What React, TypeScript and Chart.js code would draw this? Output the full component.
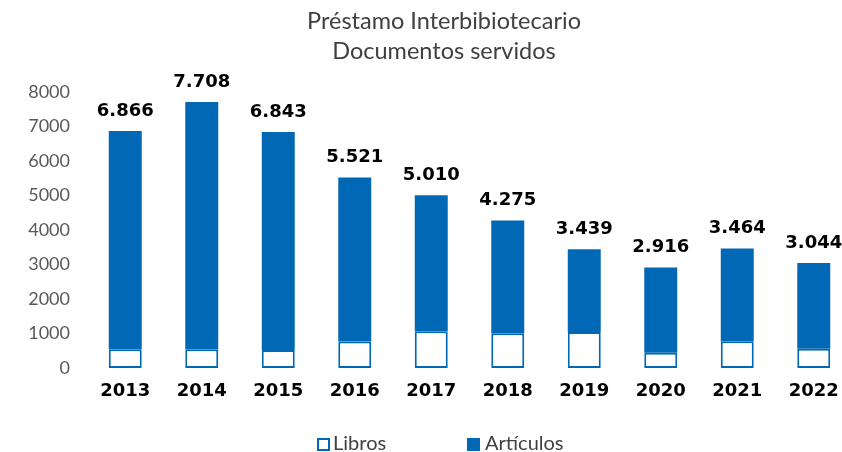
import React, { useEffect, useRef } from "react";
import { Chart, registerables } from "chart.js";

Chart.register(...registerables);

const years = ["2013", "2014", "2015", "2016", "2017", "2018", "2019", "2020", "2021", "2022"];
const totals = [6866, 7708, 6843, 5521, 5010, 4275, 3439, 2916, 3464, 3044];
const libros = [540, 540, 520, 765, 1065, 1010, 1040, 440, 775, 560];
const articulos = totals.map((t, i) => t - libros[i]);
const yTicks = [0, 1000, 2000, 3000, 4000, 5000, 6000, 7000, 8000];
const titleLines = ["Préstamo Interbibiotecario", "Documentos servidos"];
const seriesNames = ["Libros", "Artículos"];

const BLUE = "#0068B4";
const GRAY = "#404040";

const fmt = (n: number) => n.toLocaleString("de-DE");

const decorations = {
  id: "decorations",
  afterDraw(chart: any) {
    const ctx = chart.ctx;
    ctx.save();
    // Title
    ctx.fillStyle = GRAY;
    ctx.font = "23.5px Lato";
    ctx.textAlign = "center";
    ctx.textBaseline = "middle";
    ctx.fillText(titleLines[0], 444, 21);
    ctx.fillText(titleLines[1], 444, 51);
    // Legend
    ctx.font = "20px Lato";
    ctx.textAlign = "left";
    // Libros box
    ctx.fillStyle = "#fff";
    ctx.fillRect(317, 438, 13, 13);
    ctx.strokeStyle = BLUE;
    ctx.lineWidth = 2;
    ctx.strokeRect(318, 439, 11, 11);
    ctx.fillStyle = GRAY;
    ctx.fillText(seriesNames[0], 333, 444);
    ctx.fillStyle = BLUE;
    ctx.fillRect(467, 438, 13, 13);
    ctx.fillStyle = GRAY;
    ctx.fillText(seriesNames[1], 485, 444);
    ctx.restore();
  },
  afterDatasetsDraw(chart: any) {
    const ctx = chart.ctx;
    const meta = chart.getDatasetMeta(1);
    ctx.save();
    ctx.font = "bold 18px 'DejaVu Sans'";
    ctx.fillStyle = "#000";
    ctx.textAlign = "center";
    ctx.textBaseline = "middle";
    meta.data.forEach((bar: any, i: number) => {
      ctx.fillText(fmt(totals[i]), bar.x, bar.y - 20);
    });
    ctx.restore();
  },
};

export default function App() {
  const ref = useRef<HTMLCanvasElement>(null);
  useEffect(() => {
    document.body.style.margin = "0";
    document.body.style.overflow = "hidden";
    const chart = new Chart(ref.current!, {
      type: "bar",
      data: {
        labels: years,
        datasets: [
          {
            label: seriesNames[0],
            data: libros,
            backgroundColor: "#ffffff",
            borderColor: BLUE,
            borderWidth: 2,
            borderSkipped: false,
            barPercentage: 0.431,
            categoryPercentage: 1,
          },
          {
            label: seriesNames[1],
            data: articulos,
            backgroundColor: BLUE,
            borderColor: BLUE,
            borderWidth: 0,
            barPercentage: 0.431,
            categoryPercentage: 1,
          },
        ],
      },
      options: {
        animation: false,
        responsive: false,
        maintainAspectRatio: false,
        layout: { padding: { left: 0, right: 0, top: 92, bottom: 0 } },
        scales: {
          x: {
            stacked: true,
            grid: { display: false, drawTicks: false },
            border: { display: false },
            ticks: { color: "#000", font: { family: "DejaVu Sans", size: 18, weight: "bold" }, padding: 13 },
            afterFit: (axis: any) => {
              axis.height = 84;
            },
          },
          y: {
            stacked: true,
            min: 0,
            max: 8000,
            afterBuildTicks: (axis: any) => {
              axis.ticks = yTicks.map((v) => ({ value: v }));
            },
            grid: { display: false, drawTicks: false },
            border: { display: false },
            ticks: {
              color: "#595959",
              font: { family: "Lato", size: 18 },
              padding: 17,
              callback: (v: any) => String(v),
            },
            afterFit: (axis: any) => {
              axis.width = 87;
            },
          },
        },
        plugins: {
          title: { display: false },
          legend: { display: false },
          tooltip: { enabled: false },
        },
      },
      plugins: [decorations],
    });
    return () => chart.destroy();
  }, []);
  return (
    <div style={{ width: 842, height: 452, overflow: "hidden" }}>
      <canvas ref={ref} width={852} height={452} style={{ display: "block" }} />
    </div>
  );
}
